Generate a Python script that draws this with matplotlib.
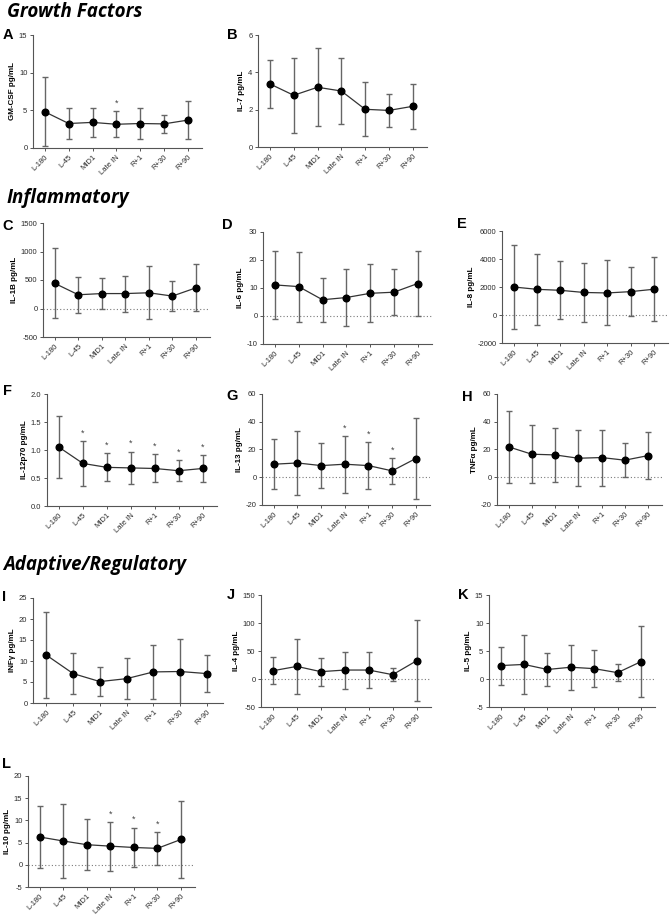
import numpy as np
import matplotlib
matplotlib.use('Agg')
import matplotlib.pyplot as plt
from matplotlib.ticker import FormatStrFormatter

# time points shared by every panel
timepoints = ['L-180', 'L-45', 'MID1', 'Late IN', 'R+1', 'R+30', 'R+90']

# means and SD (pg/mL)
gmcsf_mean = [4.8, 3.25, 3.4, 3.15, 3.25, 3.2, 3.7]
gmcsf_sd = [4.6, 2.0, 1.9, 1.7, 2.1, 1.2, 2.5]
gmcsf_sig = [3]

il7_mean = [3.38, 2.77, 3.2, 3.0, 2.02, 1.96, 2.18]
il7_sd = [1.3, 2.0, 2.1, 1.75, 1.45, 0.9, 1.2]
il7_sig = []

il1b_mean = [441, 241, 262, 262, 276, 218, 362]
il1b_sd = [612, 318, 265, 315, 467, 268, 411]
il1b_sig = []

il6_mean = [11.1, 10.5, 5.8, 6.6, 8.1, 8.5, 11.6]
il6_sd = [12.0, 12.5, 7.8, 10.1, 10.3, 8.3, 11.5]
il6_sig = []

il8_mean = [2000, 1834, 1763, 1610, 1574, 1669, 1840]
il8_sd = [3000, 2520, 2060, 2120, 2320, 1760, 2280]
il8_sig = []

il12_mean = [1.05, 0.76, 0.69, 0.68, 0.67, 0.63, 0.67]
il12_sd = [0.55, 0.40, 0.25, 0.29, 0.25, 0.19, 0.235]
il12_sig = [1, 2, 3, 4, 5, 6]

il13_mean = [9.4, 10.3, 8.4, 9.4, 8.4, 4.6, 13.5]
il13_sd = [17.9, 22.9, 16.2, 20.5, 17.1, 9.25, 29.5]
il13_sig = [3, 4, 5]

tnfa_mean = [21.9, 16.6, 16.1, 13.7, 14.2, 12.3, 15.6]
tnfa_sd = [26.0, 20.8, 19.3, 20.0, 20.2, 12.2, 17.2]
tnfa_sig = []

infg_mean = [11.4, 7.0, 5.1, 5.8, 7.4, 7.5, 7.0]
infg_sd = [10.3, 4.9, 3.4, 4.9, 6.35, 7.8, 4.4]
infg_sig = []

il4_mean = [14.8, 22.5, 13.1, 16.0, 16.0, 7.7, 32.6]
il4_sd = [23.7, 49.0, 25.0, 33.0, 32.3, 11.9, 72.0]
il4_sig = []

il5_mean = [2.4, 2.6, 1.7, 2.1, 1.85, 1.13, 3.1]
il5_sd = [3.4, 5.2, 3.0, 4.0, 3.27, 1.5, 6.4]
il5_sig = []

il10_mean = [6.26, 5.36, 4.53, 4.2, 3.9, 3.7, 5.7]
il10_sd = [6.9, 8.25, 5.8, 5.5, 4.5, 3.65, 8.7]
il10_sig = [3, 4, 5]

W, H = 670, 919


def px_box(l, t, r, b):
    return [l / W, 1 - b / H, (r - l) / W, (b - t) / H]


def draw_panel(fig, box, mean, sd, sig, ylabel, ylim, yticks, fmt='%g'):
    ax = fig.add_axes(px_box(*box))
    x = np.arange(len(timepoints))
    mean = np.asarray(mean)
    sd = np.asarray(sd)
    if ylim[0] < 0:
        ax.axhline(0, ls=(0, (1, 2)), color='#7a7a7a', lw=0.8, zorder=1)
    ax.errorbar(x, mean, yerr=sd, fmt='none', ecolor='#666666',
                elinewidth=1.0, capsize=2.3, capthick=1.0, zorder=2)
    ax.plot(x, mean, '-', color='#333333', lw=0.9, zorder=3)
    ax.plot(x, mean, 'o', color='black', ms=4.8, zorder=4)
    for i in sig:
        ax.annotate('*', (x[i], mean[i] + sd[i]), xytext=(0, 2.5),
                    textcoords='offset points', ha='center', va='bottom',
                    fontsize=6.5, color='#444444')
    ax.set_xlim(-0.5, 6.6)
    ax.set_ylim(*ylim)
    ax.set_yticks(yticks)
    ax.yaxis.set_major_formatter(FormatStrFormatter(fmt))
    ax.set_xticks(x)
    ax.set_xticklabels(timepoints, rotation=45, ha='right',
                       rotation_mode='anchor')
    ax.set_ylabel(ylabel, fontsize=5.8, fontweight='bold', labelpad=2)
    for s in ['top', 'right']:
        ax.spines[s].set_visible(False)
    for s in ['left', 'bottom']:
        ax.spines[s].set_color('#555555')
        ax.spines[s].set_linewidth(0.8)
    ax.tick_params(labelsize=5.5, colors='#555555', labelcolor='#2a2a2a',
                   length=2.5, width=0.7, pad=1.5)
    return ax


def main():
    plt.rcParams['font.family'] = ['Liberation Sans', 'DejaVu Sans']
    fig = plt.figure(figsize=(W / 100, H / 100), dpi=100)

    head = dict(fontsize=13.5, fontweight='bold', style='italic',
                family=['Open Sans', 'DejaVu Sans'], va='baseline')
    fig.text(7 / W, 1 - 17 / H, 'Growth Factors', **head)
    fig.text(7 / W, 1 - 203 / H, 'Inflammatory', **head)
    fig.text(3 / W, 1 - 570 / H, 'Adaptive/Regulatory', **head)

    # Growth factors
    draw_panel(fig, (33, 35, 202, 148), gmcsf_mean, gmcsf_sd, gmcsf_sig,
               'GM-CSF pg/mL', (0, 15), [0, 5, 10, 15])
    draw_panel(fig, (258, 35, 427, 147), il7_mean, il7_sd, il7_sig,
               'IL-7 pg/mL', (0, 6), [0, 2, 4, 6])

    # Inflammatory
    draw_panel(fig, (43, 223, 210, 337), il1b_mean, il1b_sd, il1b_sig,
               'IL-1B pg/mL', (-500, 1500), [-500, 0, 500, 1000, 1500])
    draw_panel(fig, (263, 232, 432, 344), il6_mean, il6_sd, il6_sig,
               'IL-6 pg/mL', (-10, 30), [-10, 0, 10, 20, 30])
    draw_panel(fig, (502, 231, 668, 343), il8_mean, il8_sd, il8_sig,
               'IL-8 pg/mL', (-2000, 6000), [-2000, 0, 2000, 4000, 6000])
    draw_panel(fig, (47, 394, 217, 506), il12_mean, il12_sd, il12_sig,
               'IL-12p70 pg/mL', (0, 2.0), [0, 0.5, 1.0, 1.5, 2.0], fmt='%.1f')
    draw_panel(fig, (262, 394, 430, 505), il13_mean, il13_sd, il13_sig,
               'IL-13 pg/mL', (-20, 60), [-20, 0, 20, 40, 60])
    draw_panel(fig, (497, 394, 662, 505), tnfa_mean, tnfa_sd, tnfa_sig,
               'TNFα pg/mL', (-20, 60), [-20, 0, 20, 40, 60])

    # Adaptive / regulatory
    draw_panel(fig, (33, 598, 223, 703), infg_mean, infg_sd, infg_sig,
               'INFγ pg/mL', (0, 25), [0, 5, 10, 15, 20, 25])
    draw_panel(fig, (261, 595, 431, 707), il4_mean, il4_sd, il4_sig,
               'IL-4 pg/mL', (-50, 150), [-50, 0, 50, 100, 150])
    draw_panel(fig, (489, 595, 655, 707), il5_mean, il5_sd, il5_sig,
               'IL-5 pg/mL', (-5, 15), [-5, 0, 5, 10, 15])
    draw_panel(fig, (28, 776, 195, 887), il10_mean, il10_sd, il10_sig,
               'IL-10 pg/mL', (-5, 20), [-5, 0, 5, 10, 15, 20])

    # panel letters
    letters = [('A', 3, 39), ('B', 227, 39), ('C', 2, 230), ('D', 222, 229),
               ('E', 457, 228), ('F', 3, 395), ('G', 226, 400), ('H', 462, 401),
               ('I', 2, 601), ('J', 227, 599), ('K', 458, 599), ('L', 2, 768)]
    for lab, lx, ly in letters:
        fig.text(lx / W, 1 - ly / H, lab, fontsize=10.5, fontweight='bold',
                 va='baseline')

    fig.savefig('out.png', dpi=100)


if __name__ == '__main__':
    main()
